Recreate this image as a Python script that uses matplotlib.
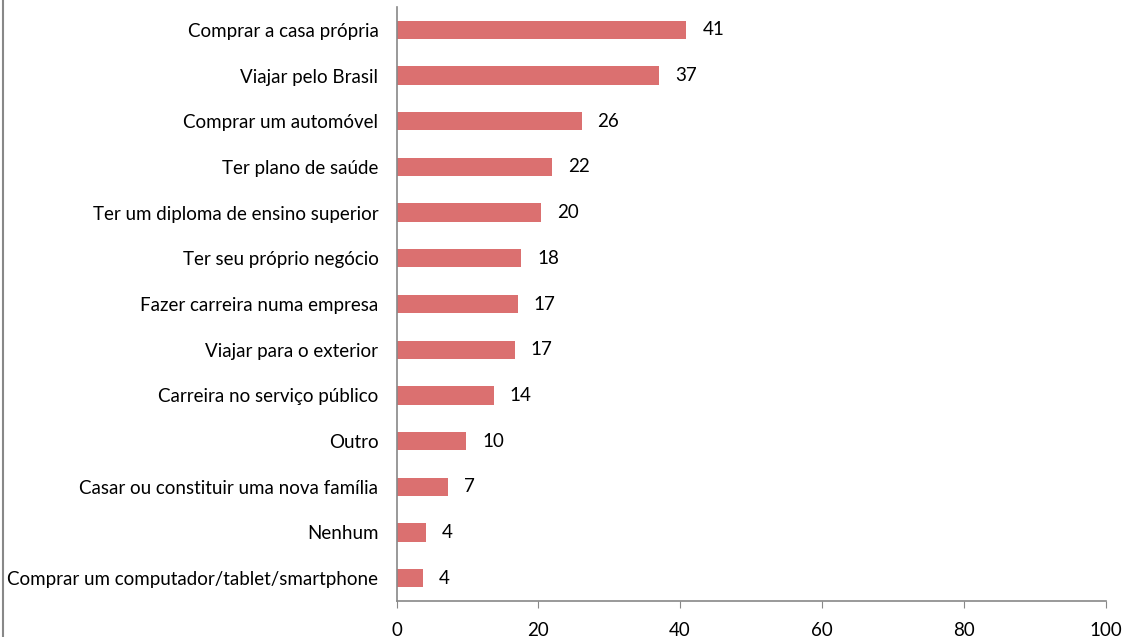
import matplotlib
matplotlib.use('Agg')
import matplotlib.pyplot as plt
from matplotlib.lines import Line2D

categories = [
    'Comprar a casa própria',
    'Viajar pelo Brasil',
    'Comprar um automóvel',
    'Ter plano de saúde',
    'Ter um diploma de ensino superior',
    'Ter seu próprio negócio',
    'Fazer carreira numa empresa',
    'Viajar para o exterior',
    'Carreira no serviço público',
    'Outro',
    'Casar ou constituir uma nova família',
    'Nenhum',
    'Comprar um computador/tablet/smartphone',
]
values = [40.9, 37.0, 26.1, 21.9, 20.4, 17.6, 17.1, 16.7, 13.7, 9.8, 7.3, 4.1, 3.7]
xticks = [0, 20, 40, 60, 80, 100]

plt.rcParams['font.family'] = ['Lato', 'DejaVu Sans']

fig = plt.figure(figsize=(11.27, 6.37), dpi=100)
ax = fig.add_axes([396.5 / 1127, 1 - 601 / 637, (1105.5 - 396.5) / 1127, (601 - 7) / 637])

ypos = list(range(len(categories)))
bars = ax.barh(ypos, values, height=0.4, color='#db7070')
ax.bar_label(bars, labels=[f'{v:.0f}' for v in values], padding=11.5, fontsize=13.5)

ax.set_xlim(0, 100)
ax.set_ylim(len(categories) - 0.5, -0.5)
ax.set_yticks(ypos)
ax.set_yticklabels(categories, fontsize=13.5)
ax.set_xticks(xticks)
ax.tick_params(axis='y', length=0, pad=13)
ax.tick_params(axis='x', length=5, color='#888888', direction='out', pad=10, labelsize=13.5)

for side in ['top', 'right']:
    ax.spines[side].set_visible(False)
for side in ['left', 'bottom']:
    ax.spines[side].set_color('#888888')
    ax.spines[side].set_linewidth(1.2)

# gray border line on the left edge of the chart area
fig.add_artist(Line2D([3 / 1127, 3 / 1127], [0, 1], color='#888888', lw=1.5))

fig.savefig('out.png', dpi=100)
